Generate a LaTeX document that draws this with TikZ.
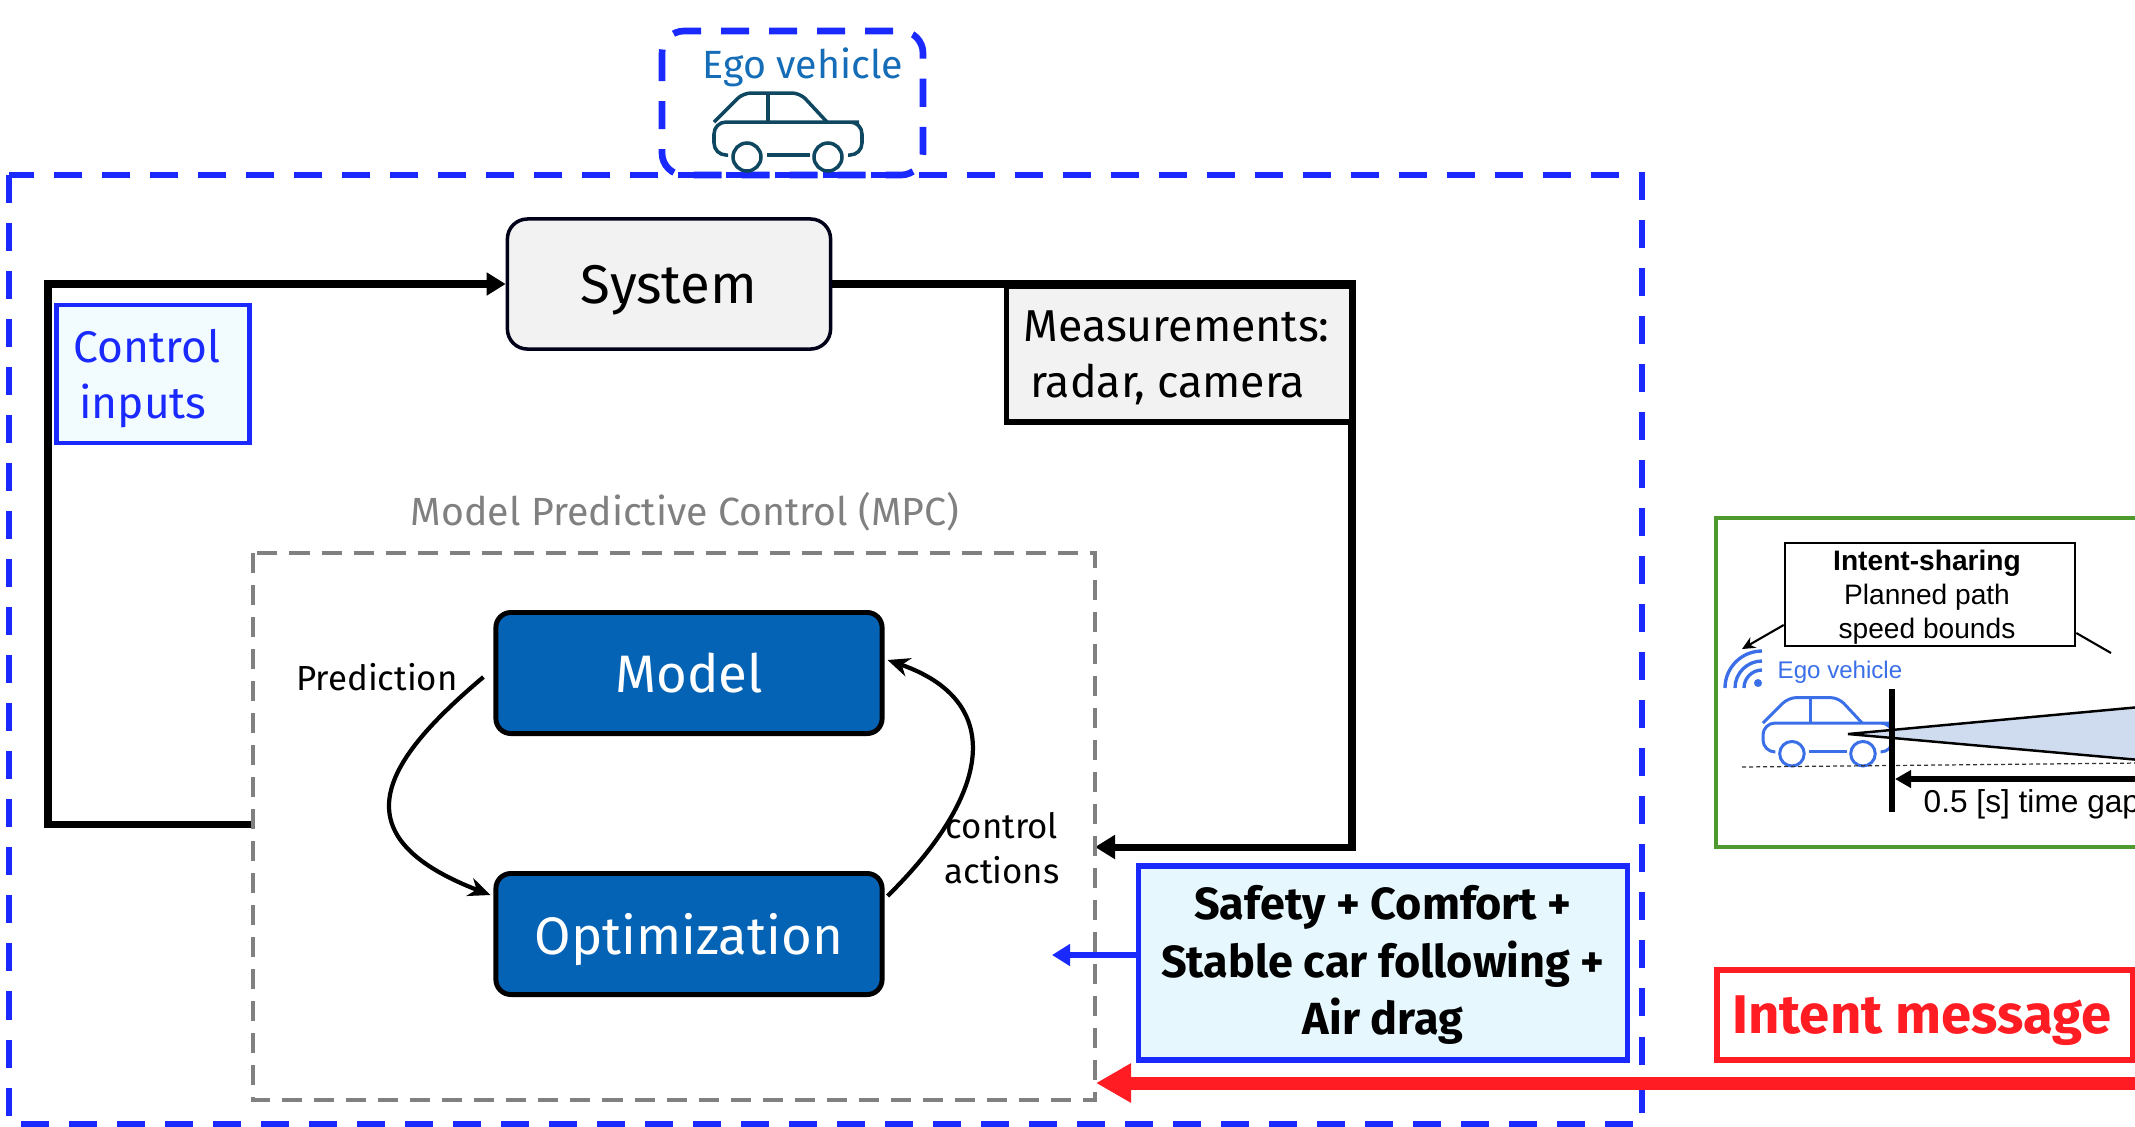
\documentclass[tikz,border=0pt]{standalone}
\usepackage{fontspec}
\setmainfont{Fira Sans}
\newfontfamily\arialfont{Liberation Sans}
\usetikzlibrary{arrows.meta,shapes}
\definecolor{dashblue}{HTML}{1A2AFF}
\definecolor{egoblue}{HTML}{156DB8}
\definecolor{cartdark}{HTML}{0F4761}
\definecolor{carblue}{HTML}{3B6FE8}
\definecolor{modelblue}{HTML}{0563B5}
\definecolor{okgreen}{HTML}{4E9A2E}
\definecolor{alarmred}{HTML}{FF1C23}
\definecolor{conefill}{HTML}{CFDCEF}
\tikzset{
  txt/.style={font=\fontsize{#1}{#1}\selectfont,inner sep=0pt,align=center,text depth=0pt},
  bluedash/.style={draw=dashblue,line width=1.9pt,dash pattern=on .28cm off .2cm},
  bluebox/.style={draw=dashblue,line width=1.3pt},
  thickflow/.style={draw=black,line width=2pt},
  curveflow/.style={draw=black,line width=1.2pt,-{Stealth[length=.22cm,width=.19cm]}},
  blockbox/.style={draw=black,fill=modelblue,line width=1.4pt,rounded corners=.15cm,text=white,minimum width=3.86cm,minimum height=1.21cm},
  pics/carshape/.style={code={
    \draw[rounded corners=.12cm] (14,33) -- (0,33) -- (0,0) -- (133,0) -- (148,0) -- (148,33) -- (134,33);
    \draw (53,33) -- (96,33);
    \draw (33,35) circle (14);
    \draw (114,35) circle (14);
    \draw[rounded corners=.08cm] (0,0) -- (29,-29) -- (86,-29) -- (113,0);
    \draw (54,-29) -- (54,0);
  }}
}
\begin{document}
\begin{tikzpicture}[x=.01cm,y=-.01cm]
\useasboundingbox (0,0) rectangle (2135,1126);
\clip (0,0) rectangle (2135,1126);
\draw[bluedash] (9,175) rectangle (1642,1124);
\draw[bluedash,rounded corners=.22cm] (662,31) rectangle (923,175);
\node[txt=11.2,text=egoblue] (egolabel) at (803,63) {Ego vehicle};
\pic[color=cartdark,line width=1pt] at (714,122) {carshape};

\node[txt=15.5,draw=black!90!blue,fill=black!5,line width=1pt,rounded corners=.2cm,minimum width=3.23cm,minimum height=1.3cm] (system) at (669,284) {System};
\coordinate (leftbus) at (48,284);
\coordinate (rightbus) at (1352,847);
\coordinate (mpcout) at (253,824);
\coordinate (mpcin) at (1095,847);
\draw[thickflow,-{Triangle[length=.19cm,width=.22cm]}] (mpcout) -| (leftbus) -- (system);
\draw[thickflow,-{Triangle[length=.2cm,width=.23cm]}] (system) -| (rightbus) -- (mpcin);
\node[txt=12.6,bluebox,fill=cyan!5,text=dashblue,minimum width=1.93cm,minimum height=1.38cm] (inputs) at (153,374) {Control\hspace*{.12cm}\\[.115cm]inputs\hspace*{.2cm}};
\node[txt=12.7,draw=black,fill=black!5,line width=1.5pt,minimum width=3.45cm,minimum height=1.36cm] (sensors) at (1179,354) {Measurements:\hspace*{.05cm}\\[.115cm]radar, camera\hspace*{.23cm}};

\node[txt=11.17,text=black!50] (mpctitle) at (685,509) {Model Predictive Control (MPC)};
\draw[draw=black!50,line width=1.2pt,dash pattern=on .2cm off .12cm] (253,553) rectangle (1095,1100);
\node[txt=15,blockbox] (model) at (689,673) {Model};
\node[txt=15,blockbox] (optim) at (689,934) {Optimization};
\draw[curveflow] ([shift={(-10,4)}]model.west) .. controls (385,760) and (335,835) .. ([shift={(-3,-39)}]optim.west);
\draw[curveflow] ([shift={(3,-38)}]optim.east) .. controls (995,790) and (1003,700) .. ([shift={(3,-13)}]model.east);
\node[txt=9.9] (predlabel) at (377,677) {Prediction};
\node[txt=9.9] (actlabel) at (1002,848) {control\\[.1cm]actions};

\node[txt=12.8,bluebox,line width=1.5pt,fill=cyan!10,font=\bfseries\fontsize{12.8}{12.8}\selectfont,text depth=.06cm,minimum width=4.89cm,minimum height=1.94cm] (goals) at (1383,963) {Safety + Comfort +\\[.075cm]Stable car following +\\[.075cm]Air drag};
\coordinate (goalsout) at (1052,955);
\draw[draw=dashblue,line width=1.8pt,-{Triangle[length=.18cm,width=.21cm]}] (goals.west |- goalsout) -- (goalsout);

\node[draw=alarmred,line width=1.9pt,minimum width=4.16cm,minimum height=.9cm] (intent) at (1925,1015) {};
\node[txt=15.5,text=alarmred,font=\bfseries\fontsize{15.5}{15.5}\selectfont] (intentlabel) at (1922,1015) {Intent message};
\coordinate (redstart) at (2140,1083);
\coordinate (redtip) at (1096,1083);
\draw[draw=alarmred,line width=3.7pt,-{Triangle[length=.35cm,width=.37cm]}] (redstart) -- (redtip);

\draw[draw=okgreen,line width=1pt] (1716,518) rectangle (2200,847);
\coordinate (coneapex) at (1848,734);
\coordinate (coneup) at (2140,707);
\coordinate (conedown) at (2140,760);
\pic[color=carblue,line width=.85pt,scale=.877] at (1763,723) {carshape};
\draw[fill=conefill,draw=black,line width=.7pt] (coneup) -- (coneapex) -- (conedown);
\draw[draw=black!80,line width=.35pt,dash pattern=on .04cm off .03cm] (1742,767) -- (2140,763);
\draw[draw=black,line width=1.5pt] (1892,689) -- (1892,812);
\coordinate (gapstart) at (2140,779);
\coordinate (gaptip) at (1895,779);
\draw[draw=black,line width=1.7pt,-{Triangle[length=.16cm,width=.17cm]}] (gapstart) -- (gaptip);
\node[anchor=west,inner sep=0pt,font=\arialfont\fontsize{9}{9}\selectfont] (gaplabel) at (1923,804) {0.5 [s] time gap};
\node[draw=black,fill=white,line width=.7pt,minimum width=2.9cm,minimum height=1.03cm] (sharing) at (1930,594.5) {};
\node[inner sep=0pt,align=center,font=\arialfont\fontsize{8}{9.6}\selectfont] (sharinglabel) at (1927,597) {\textbf{Intent-sharing}\\Planned path\\speed bounds};
\coordinate (wifiend) at (1742,649);
\coordinate (rightend) at (2111,653);
\draw[draw=black,line width=.6pt,-{Stealth[length=.13cm,width=.12cm]}] (sharing.west |- 0,625) -- (wifiend);
\draw[draw=black,line width=.6pt] (sharing.east |- 0,633) -- (rightend);
\foreach \wifir in {18,27,37}
  \draw[draw=carblue,line width=.95pt] (1762,688) ++(180:\wifir) arc[start angle=180,end angle=90,radius=\wifir,y radius=-\wifir];
\fill[carblue] (1758,683) circle (4);
\node[text=carblue,inner sep=0pt,font=\arialfont\fontsize{6.85}{6.85}\selectfont] (egosmall) at (1840,672) {Ego vehicle};
\end{tikzpicture}
\end{document}
